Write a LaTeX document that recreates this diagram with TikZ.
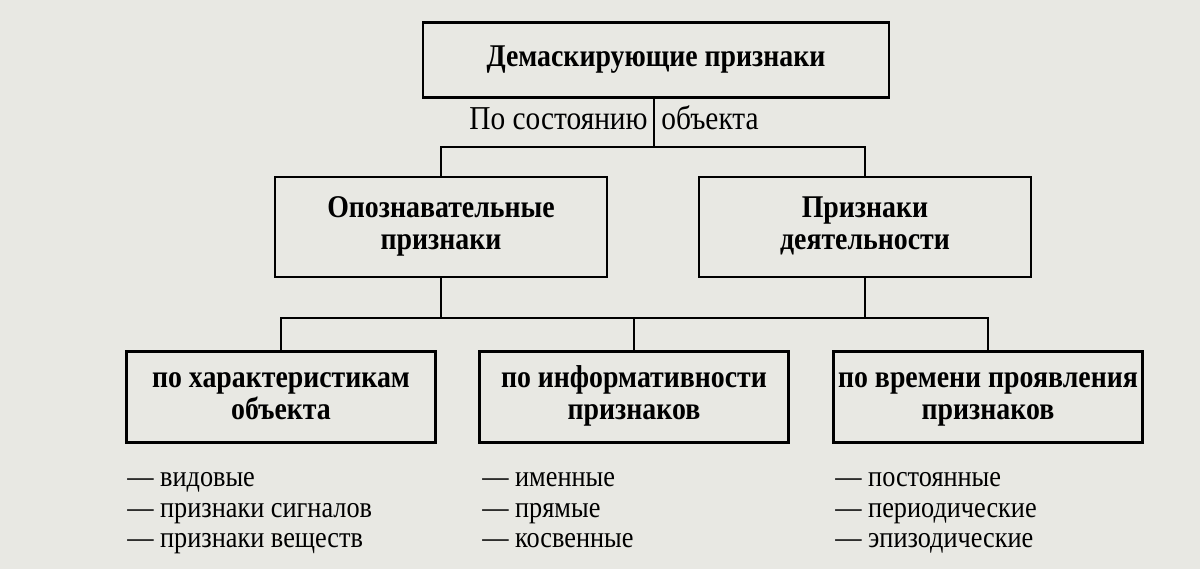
\documentclass[tikz,border=0pt]{standalone}
\usepackage{fontspec}
\setmainfont[FakeStretch=0.88]{Liberation Serif}
\usetikzlibrary{positioning,calc}
\definecolor{paper}{RGB}{232,232,227}
\tikzset{
  box/.style={draw, line width=1.5pt, align=center, font=\fontsize{18}{18.6}\bfseries\selectfont, inner sep=0pt},
  conn/.style={line width=1.2pt},
  plain/.style={font=\fontsize{19}{20}\selectfont, inner sep=0pt},
  items/.style={inner sep=0pt, anchor=north west, align=left, font=\fontsize{17}{17.4}\selectfont}
}
\begin{document}
\begin{tikzpicture}[x=0.02cm,y=-0.02cm]
        \fill[paper] (0,0) rectangle (1200,569);
        \useasboundingbox (0,0) rectangle (1200,569);
        \node[box, minimum width=466*0.02cm, minimum height=75*0.02cm] (top) at (656,60) {\strut Демаскирующие признаки};
        \node[box, minimum width=332*0.02cm, minimum height=100*0.02cm] (opozn) at (441,227) {\strut Опознавательные\\\strut признаки};
        \node[box, minimum width=332*0.02cm, minimum height=100*0.02cm] (deyat) at (865,227) {\strut Признаки\\\strut деятельности};
        \node[box, minimum width=309*0.02cm, minimum height=91*0.02cm] (harak) at (281,397) {\strut по характеристикам\\\strut объекта};
        \node[box, minimum width=309*0.02cm, minimum height=91*0.02cm] (inform) at (634,397) {\strut по информативности\\\strut признаков};
        \node[box, minimum width=309*0.02cm, minimum height=91*0.02cm] (vremya) at (988,397) {\strut по времени проявления\\\strut признаков};
        \coordinate (split1) at (654,147);
        \coordinate (split2) at (634,318);
        \node[plain, anchor=base east] (sost) at (648,129) {По состоянию};
        \node[plain, anchor=base west] (obj) at (661,129) {объекта};
        \draw[conn] (top.south -| split1) -- (split1);
        \draw[conn] (opozn.north) |- (split1) -| (deyat.north);
        \draw[conn] (opozn.south) -- (opozn.south |- split2);
        \draw[conn] (deyat.south) -- (deyat.south |- split2);
        \draw[conn] (harak.north) |- (split2) -| (vremya.north);
        \draw[conn] (split2) -- (inform.north);
        \node[items] (listA) at (127,472) {— видовые\\— признаки сигналов\\— признаки веществ};
        \node[items] (listB) at (482,472) {— именные\\— прямые\\— косвенные};
        \node[items] (listC) at (835,472) {— постоянные\\— периодические\\— эпизодические};
    \end{tikzpicture}
\end{document}
